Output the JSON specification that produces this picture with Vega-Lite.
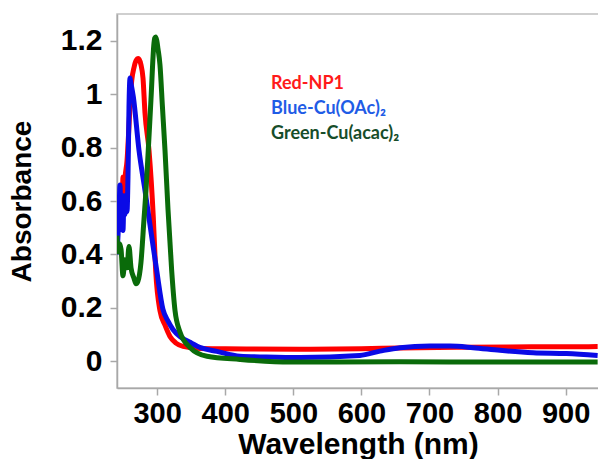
{
  "$schema": "https://vega.github.io/schema/vega-lite/v6.json",
  "width": 482,
  "height": 374,
  "autosize": "none",
  "padding": {"left": 117, "top": 14, "right": 0, "bottom": 71},
  "background": "white",
  "config": {
    "view": {"stroke": "#c0c0c0", "strokeWidth": 1.5},
    "axis": {
      "domainColor": "#a8a8a8", "domainWidth": 1.5, "tickColor": "#a8a8a8", "tickWidth": 1.5, "tickSize": 7,
      "grid": false, "labelFont": "Liberation Sans", "labelFontWeight": "bold", "labelColor": "black",
      "titleFont": "Liberation Sans", "titleFontWeight": "bold", "titleColor": "black"
    }
  },
  "data": {"values": [
    {"s":"Red-NP1","wl":241.0,"a":0.60},{"s":"Red-NP1","wl":242.5,"a":0.50},{"s":"Red-NP1","wl":243.9,"a":0.58},{"s":"Red-NP1","wl":245.4,"a":0.52},{"s":"Red-NP1","wl":246.9,"a":0.61},{"s":"Red-NP1","wl":248.3,"a":0.55},{"s":"Red-NP1","wl":249.8,"a":0.69},{"s":"Red-NP1","wl":251.3,"a":0.60},{"s":"Red-NP1","wl":252.7,"a":0.68},{"s":"Red-NP1","wl":255.7,"a":0.75},{"s":"Red-NP1","wl":258.6,"a":0.88},{"s":"Red-NP1","wl":261.0,"a":1.00},{"s":"Red-NP1","wl":262.6,"a":1.05},{"s":"Red-NP1","wl":266.0,"a":1.10},{"s":"Red-NP1","wl":268.9,"a":1.125},{"s":"Red-NP1","wl":272.3,"a":1.133},{"s":"Red-NP1","wl":276.2,"a":1.11},{"s":"Red-NP1","wl":279.2,"a":1.06},{"s":"Red-NP1","wl":282.1,"a":0.93},{"s":"Red-NP1","wl":288.0,"a":0.79},{"s":"Red-NP1","wl":294.3,"a":0.54},{"s":"Red-NP1","wl":297.8,"a":0.34},{"s":"Red-NP1","wl":304.1,"a":0.19},{"s":"Red-NP1","wl":311.5,"a":0.135},{"s":"Red-NP1","wl":318.8,"a":0.093},{"s":"Red-NP1","wl":327.6,"a":0.068},{"s":"Red-NP1","wl":337.9,"a":0.056},{"s":"Red-NP1","wl":362.9,"a":0.048},{"s":"Red-NP1","wl":400,"a":0.047},{"s":"Red-NP1","wl":509,"a":0.045},{"s":"Red-NP1","wl":600,"a":0.047},{"s":"Red-NP1","wl":656,"a":0.050},{"s":"Red-NP1","wl":750,"a":0.053},{"s":"Red-NP1","wl":850,"a":0.054},{"s":"Red-NP1","wl":947,"a":0.055},
    {"s":"Blue-Cu(OAc)₂","wl":241.0,"a":0.40},{"s":"Blue-Cu(OAc)₂","wl":242.5,"a":0.47},{"s":"Blue-Cu(OAc)₂","wl":243.9,"a":0.55},{"s":"Blue-Cu(OAc)₂","wl":245.4,"a":0.66},{"s":"Blue-Cu(OAc)₂","wl":246.9,"a":0.50},{"s":"Blue-Cu(OAc)₂","wl":248.3,"a":0.58},{"s":"Blue-Cu(OAc)₂","wl":249.8,"a":0.49},{"s":"Blue-Cu(OAc)₂","wl":251.3,"a":0.62},{"s":"Blue-Cu(OAc)₂","wl":252.7,"a":0.55},{"s":"Blue-Cu(OAc)₂","wl":254.2,"a":0.60},{"s":"Blue-Cu(OAc)₂","wl":255.7,"a":0.56},{"s":"Blue-Cu(OAc)₂","wl":257.2,"a":0.70},{"s":"Blue-Cu(OAc)₂","wl":258.6,"a":0.95},{"s":"Blue-Cu(OAc)₂","wl":260.1,"a":1.06},{"s":"Blue-Cu(OAc)₂","wl":261.6,"a":1.04},{"s":"Blue-Cu(OAc)₂","wl":265.0,"a":0.99},{"s":"Blue-Cu(OAc)₂","wl":273.3,"a":0.79},{"s":"Blue-Cu(OAc)₂","wl":282.1,"a":0.64},{"s":"Blue-Cu(OAc)₂","wl":289.5,"a":0.51},{"s":"Blue-Cu(OAc)₂","wl":299.3,"a":0.34},{"s":"Blue-Cu(OAc)₂","wl":308.5,"a":0.194},{"s":"Blue-Cu(OAc)₂","wl":316,"a":0.15},{"s":"Blue-Cu(OAc)₂","wl":323.2,"a":0.119},{"s":"Blue-Cu(OAc)₂","wl":335,"a":0.09},{"s":"Blue-Cu(OAc)₂","wl":348.2,"a":0.071},{"s":"Blue-Cu(OAc)₂","wl":365,"a":0.05},{"s":"Blue-Cu(OAc)₂","wl":387.8,"a":0.037},{"s":"Blue-Cu(OAc)₂","wl":421.6,"a":0.019},{"s":"Blue-Cu(OAc)₂","wl":460,"a":0.016},{"s":"Blue-Cu(OAc)₂","wl":509.7,"a":0.014},{"s":"Blue-Cu(OAc)₂","wl":597.8,"a":0.022},{"s":"Blue-Cu(OAc)₂","wl":627.2,"a":0.038},{"s":"Blue-Cu(OAc)₂","wl":656.6,"a":0.051},{"s":"Blue-Cu(OAc)₂","wl":700.6,"a":0.057},{"s":"Blue-Cu(OAc)₂","wl":730,"a":0.057},{"s":"Blue-Cu(OAc)₂","wl":764.2,"a":0.051},{"s":"Blue-Cu(OAc)₂","wl":803.4,"a":0.041},{"s":"Blue-Cu(OAc)₂","wl":852.3,"a":0.032},{"s":"Blue-Cu(OAc)₂","wl":901.3,"a":0.029},{"s":"Blue-Cu(OAc)₂","wl":947,"a":0.022},
    {"s":"Green-Cu(acac)₂","wl":241.0,"a":0.47},{"s":"Green-Cu(acac)₂","wl":242.5,"a":0.41},{"s":"Green-Cu(acac)₂","wl":244.7,"a":0.44},{"s":"Green-Cu(acac)₂","wl":246.9,"a":0.42},{"s":"Green-Cu(acac)₂","wl":249.8,"a":0.32},{"s":"Green-Cu(acac)₂","wl":252.7,"a":0.38},{"s":"Green-Cu(acac)₂","wl":255.7,"a":0.35},{"s":"Green-Cu(acac)₂","wl":258.6,"a":0.43},{"s":"Green-Cu(acac)₂","wl":261.6,"a":0.35},{"s":"Green-Cu(acac)₂","wl":266.0,"a":0.31},{"s":"Green-Cu(acac)₂","wl":268.9,"a":0.29},{"s":"Green-Cu(acac)₂","wl":271.8,"a":0.30},{"s":"Green-Cu(acac)₂","wl":276.2,"a":0.37},{"s":"Green-Cu(acac)₂","wl":280.6,"a":0.53},{"s":"Green-Cu(acac)₂","wl":283.6,"a":0.64},{"s":"Green-Cu(acac)₂","wl":286.5,"a":0.77},{"s":"Green-Cu(acac)₂","wl":290.9,"a":0.98},{"s":"Green-Cu(acac)₂","wl":295.3,"a":1.19},{"s":"Green-Cu(acac)₂","wl":296.5,"a":1.21},{"s":"Green-Cu(acac)₂","wl":297.8,"a":1.214},{"s":"Green-Cu(acac)₂","wl":299.5,"a":1.20},{"s":"Green-Cu(acac)₂","wl":301.2,"a":1.17},{"s":"Green-Cu(acac)₂","wl":304.1,"a":1.11},{"s":"Green-Cu(acac)₂","wl":307.8,"a":0.95},{"s":"Green-Cu(acac)₂","wl":311.5,"a":0.79},{"s":"Green-Cu(acac)₂","wl":315.9,"a":0.57},{"s":"Green-Cu(acac)₂","wl":321.3,"a":0.34},{"s":"Green-Cu(acac)₂","wl":326.2,"a":0.19},{"s":"Green-Cu(acac)₂","wl":333.5,"a":0.11},{"s":"Green-Cu(acac)₂","wl":348.2,"a":0.052},{"s":"Green-Cu(acac)₂","wl":373.2,"a":0.019},{"s":"Green-Cu(acac)₂","wl":421.6,"a":0.007},{"s":"Green-Cu(acac)₂","wl":495,"a":-0.003},{"s":"Green-Cu(acac)₂","wl":656,"a":-0.002},{"s":"Green-Cu(acac)₂","wl":800,"a":-0.003},{"s":"Green-Cu(acac)₂","wl":947,"a":-0.003}
  ]},
  "encoding": {
    "x": {"field": "wl", "type": "quantitative", "scale": {"domain": [241, 949], "nice": false, "zero": false},
          "axis": {"values": [300,400,500,600,700,800,900], "format": "d", "labelFontSize": 29, "labelPadding": 4, "title": "Wavelength (nm)", "titleFontSize": 30, "titlePadding": 1}},
    "y": {"field": "a", "type": "quantitative", "scale": {"domain": [-0.1, 1.3], "nice": false, "zero": false},
          "axis": {"values": [0,0.2,0.4,0.6,0.8,1,1.2], "format": "~g", "labelFontSize": 30, "labelPadding": 8, "title": "Absorbance", "titleFontSize": 28, "titlePadding": 24}},
    "color": {"field": "s", "type": "nominal",
      "scale": {"domain": ["Red-NP1", "Blue-Cu(OAc)₂", "Green-Cu(acac)₂"], "range": ["#ff0000", "#0a0ae6", "#0a6b0a"]},
      "legend": {"orient": "none", "legendX": 136, "legendY": 61, "title": null, "symbolSize": 0, "symbolOpacity": 0, "symbolStrokeWidth": 0,
        "labelOffset": 0, "padding": 0, "rowPadding": 7, "labelFont": "Lato", "labelFontSize": 18, "labelFontWeight": "bold",
        "encode": {"labels": {"update": {"fill": {"signal": "datum.value === 'Red-NP1' ? '#ff1a1a' : datum.value === 'Blue-Cu(OAc)₂' ? '#1f5ce6' : '#174d2a'"}}}}}
    }
  },
  "layer": [
    {"transform": [{"filter": "datum.s === 'Red-NP1'"}], "mark": {"type": "line", "strokeWidth": 5, "interpolate": "monotone", "clip": true}},
    {"transform": [{"filter": "datum.s === 'Blue-Cu(OAc)₂'"}], "mark": {"type": "line", "strokeWidth": 5, "interpolate": "monotone", "clip": true}},
    {"transform": [{"filter": "datum.s === 'Green-Cu(acac)₂'"}], "mark": {"type": "line", "strokeWidth": 5, "interpolate": "monotone", "clip": true}}
  ]
}
